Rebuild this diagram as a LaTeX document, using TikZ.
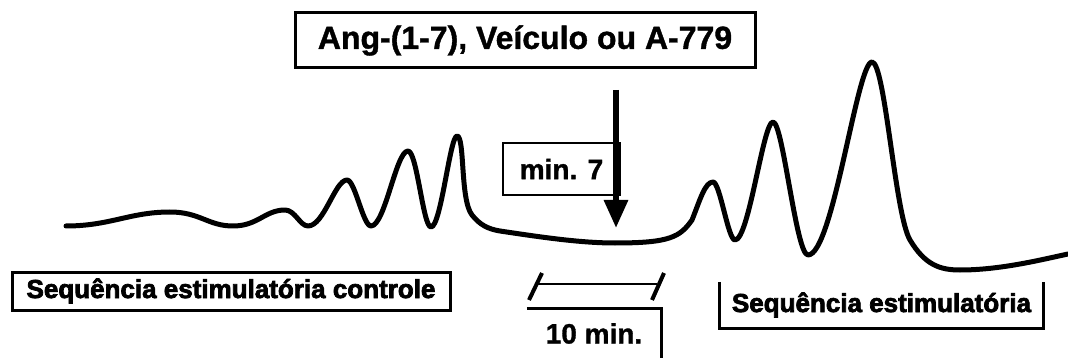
\documentclass[tikz,border=0pt]{standalone}
\usepackage{fontspec}
\setmainfont{Liberation Sans}
\newfontfamily\negrito{Liberation Sans Bold}[FakeBold=1.2]
\newfontfamily\pesada{Liberation Sans Bold}[FakeBold=2.8]
\usetikzlibrary{arrows.meta}

\begin{document}
\begin{tikzpicture}[x=1pt,y=-1pt,
    caixa/.style={draw,line width=3pt,inner sep=0pt},
    curva/.style={line width=5pt,line join=round,line cap=round}]
    \useasboundingbox (0,0) rectangle (1068,358);

    % Registro
    \draw[curva] (66,226) .. controls (110,226) and (130,212) .. (170,212)
        .. controls +(30,0) and +(-25,0) .. (233,226)
        .. controls +(25,0) and +(-20,0) .. (285,210)
        .. controls +(10,0) and +(-8,0) .. (308,226)
        .. controls +(16,0) and +(-12,0) .. (347,180)
        .. controls +(8,0) and +(-8,0) .. (371,226)
        .. controls +(14,0) and +(-12,0) .. (408,151)
        .. controls +(9,0) and +(-8,0) .. (431,227)
        .. controls +(10,0) and +(-7,0) .. (457,136)
        .. controls (465,136) and (460,200) .. (472,215)
        .. controls (480,225) and (488,229) .. (500,231)
        .. controls (540,237) and (580,243) .. (615,243)
        .. controls (670,243) and (680,237) .. (692,220)
        .. controls (700,200) and (705,182) .. (713,182)
        .. controls +(7,0) and +(-7,0) .. (735,240)
        .. controls +(14,0) and +(-10,0) .. (773,122)
        .. controls +(10,0) and +(-12,0) .. (808,255)
        .. controls +(25,0) and +(-15,0) .. (872,62)
        .. controls (885,62) and (895,215) .. (910,240)
        .. controls (925,265) and (940,270) .. (960,270)
        .. controls (1000,270) and (1040,260) .. (1068,254);

    % Tratamento
    \node[caixa,minimum width=460pt,minimum height=55pt,
        font=\negrito\fontsize{32}{36}\selectfont] (agente) at (525,40.5)
        {Ang-(1-7), Veículo ou A-779};
    \node[caixa,line width=2pt,minimum width=117pt,minimum height=52pt,
        font=\negrito\fontsize{28}{32}\selectfont] (minsete) at (561.5,169) {min. 7};
    \coordinate (setaIni) at (616,90);
    \coordinate (setaFim) at (616,228);
    \draw[line width=6pt,-{Triangle[width=23pt,length=28pt]}] (setaIni) -- (setaFim);

    % Sequencias
    \node[caixa,minimum width=438pt,minimum height=38pt,
        font=\pesada\fontsize{26}{30}\selectfont] (controle) at (231,291)
        {Sequência estimulatória controle};
    \node[inner sep=0pt,minimum width=323pt,minimum height=46pt,
        font=\pesada\fontsize{26}{30}\selectfont] (estimulo) at (881.5,305)
        {Sequência estimulatória};
    \draw[line width=3pt] (estimulo.north west) -- (estimulo.south west)
        -- (estimulo.south east) -- (estimulo.north east);

    % Escala
    \coordinate (tracoA1) at (529,300);
    \coordinate (tracoA2) at (542,273);
    \coordinate (tracoB1) at (652,300);
    \coordinate (tracoB2) at (664,273);
    \coordinate (barraIni) at (537,284);
    \coordinate (barraFim) at (657,284);
    \draw[line width=4pt] (tracoA1) -- (tracoA2);
    \draw[line width=4pt] (tracoB1) -- (tracoB2);
    \draw[line width=2pt] (barraIni) -- (barraFim);
    \node[inner sep=0pt,minimum width=134pt,minimum height=49pt,
        font=\negrito\fontsize{28}{32}\selectfont] (dezmin) at (594,333.5) {10 min.};
    \draw[line width=3pt] (dezmin.north west) -- (dezmin.north east) -- (dezmin.south east);
\end{tikzpicture}
\end{document}
